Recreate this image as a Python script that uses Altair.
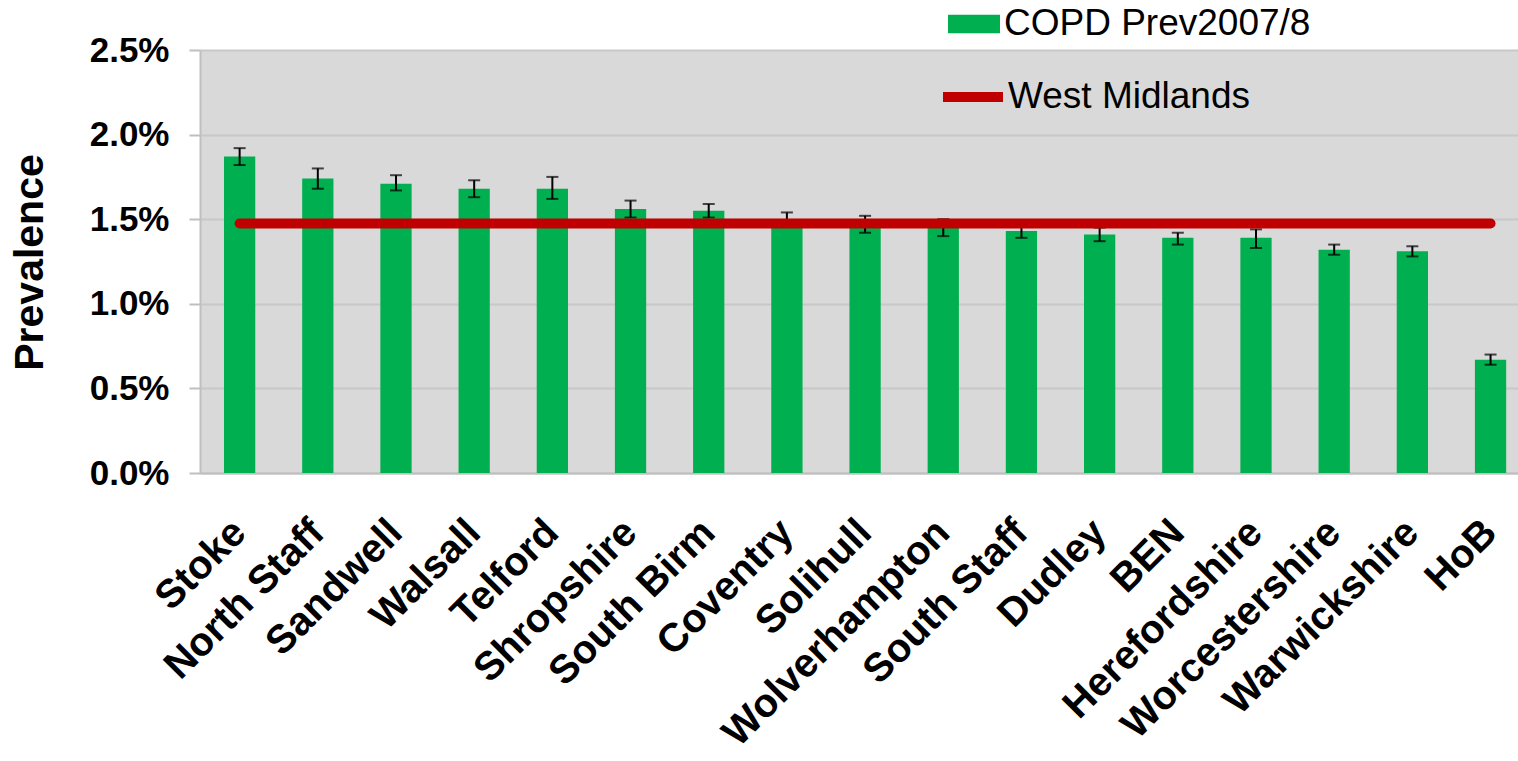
import altair as alt
import pandas as pd

categories = ["Stoke", "North Staff", "Sandwell", "Walsall", "Telford", "Shropshire",
              "South Birm", "Coventry", "Solihull", "Wolverhampton", "South Staff",
              "Dudley", "BEN", "Herefordshire", "Worcestershire", "Warwickshire", "HoB"]
prevalence = [1.87, 1.74, 1.71, 1.68, 1.68, 1.56, 1.55, 1.50, 1.47, 1.45, 1.43,
              1.41, 1.39, 1.39, 1.32, 1.31, 0.67]
ci_low = [1.82, 1.68, 1.67, 1.63, 1.62, 1.51, 1.51, 1.46, 1.42, 1.40, 1.39,
          1.37, 1.35, 1.33, 1.29, 1.28, 0.64]
ci_high = [1.92, 1.80, 1.76, 1.73, 1.75, 1.61, 1.59, 1.54, 1.52, 1.50, 1.46,
           1.45, 1.42, 1.44, 1.35, 1.34, 0.70]
west_midlands = 1.475
bar_series = "COPD Prev2007/8"
line_series = "West Midlands"
y_ticks = [0, 0.5, 1.0, 1.5, 2.0, 2.5]

df = pd.DataFrame({
    "area": categories,
    "prev": prevalence,
    "lo": ci_low,
    "hi": ci_high,
    "series": [bar_series] * len(categories),
})
wm_df = pd.DataFrame({
    "area": categories,
    "wm": [west_midlands] * len(categories),
    "series": [line_series] * len(categories),
})

FONT = "Liberation Sans"

x_enc = alt.X(
    "area:N", sort=categories, title=None,
    scale=alt.Scale(paddingInner=0.6, paddingOuter=0.229, align=0.67),
    axis=alt.Axis(labelAngle=-45, labelAlign="right", labelBaseline="middle",
                  labelPadding=53, ticks=False, grid=False,
                  labelFont=FONT, labelFontSize=40, labelFontWeight="bold",
                  labelColor="black", domainColor="#BFBFBF", domainWidth=2,
                  labelLimit=500),
)
y_scale = alt.Scale(domain=[0, 2.5], nice=False)
y_axis = alt.Axis(values=y_ticks, labelExpr="format(datum.value, '.1f') + '%'",
                  title="Prevalence", titleFont=FONT, titleFontSize=41,
                  titleFontWeight="bold", titleColor="black",
                  titleX=-158, titleY=212, titleAngle=270, titleAlign="center",
                  titleBaseline="alphabetic",
                  labelFont=FONT, labelFontSize=35, labelFontWeight="bold",
                  labelColor="black", labelPadding=20,
                  tickSize=11, tickColor="#BFBFBF", tickWidth=2,
                  domainColor="#BFBFBF", domainWidth=2,
                  grid=True, gridColor="#C8C8C8", gridWidth=2)

bars = alt.Chart(df).mark_bar().encode(
    x=x_enc,
    y=alt.Y("prev:Q", scale=y_scale, axis=y_axis),
    color=alt.Color("series:N", title=None,
                    scale=alt.Scale(domain=[bar_series], range=["#00B050"]),
                    legend=alt.Legend(orient="none", legendX=748, legendY=-52,
                                      symbolType="M-1,-0.36H1V0.36H-1Z",
                                      symbolSize=2704, symbolStrokeWidth=0,
                                      symbolOpacity=1,
                                      labelFont=FONT, labelFontSize=37,
                                      labelColor="black", labelOffset=4,
                                      padding=0, labelLimit=600)),
)

err = alt.Chart(df).mark_rule(color="black", strokeWidth=2).encode(
    x=alt.X("area:N", sort=categories),
    y=alt.Y("lo:Q", scale=y_scale),
    y2="hi:Q",
)
cap_lo = alt.Chart(df).mark_tick(color="black", size=12, thickness=2).encode(
    x=alt.X("area:N", sort=categories),
    y=alt.Y("lo:Q", scale=y_scale),
)
cap_hi = alt.Chart(df).mark_tick(color="black", size=12, thickness=2).encode(
    x=alt.X("area:N", sort=categories),
    y=alt.Y("hi:Q", scale=y_scale),
)

line = alt.Chart(wm_df).mark_line(strokeWidth=10, strokeCap="round").encode(
    x=alt.X("area:N", sort=categories),
    y=alt.Y("wm:Q", scale=y_scale),
    stroke=alt.Stroke("series:N", title=None,
                      scale=alt.Scale(domain=[line_series], range=["#C00000"]),
                      legend=alt.Legend(orient="none", legendX=738, legendY=12,
                                        symbolType="stroke", symbolSize=3600,
                                        symbolStrokeWidth=10,
                                        labelFont=FONT, labelFontSize=37,
                                        labelColor="black", labelOffset=0,
                                        padding=0, labelLimit=600)),
)

chart = alt.layer(bars, err, cap_lo, cap_hi, line).resolve_scale(
    color="independent"
).properties(
    width=1318, height=423,
    padding={"left": 200, "top": 50, "right": 0, "bottom": 284},
    autosize=alt.AutoSizeParams(type="none"),
    background="white",
).configure_view(
    fill="#D9D9D9", stroke="transparent"
)

chart.save("out.html", embed_options={"renderer": "svg", "actions": False})
